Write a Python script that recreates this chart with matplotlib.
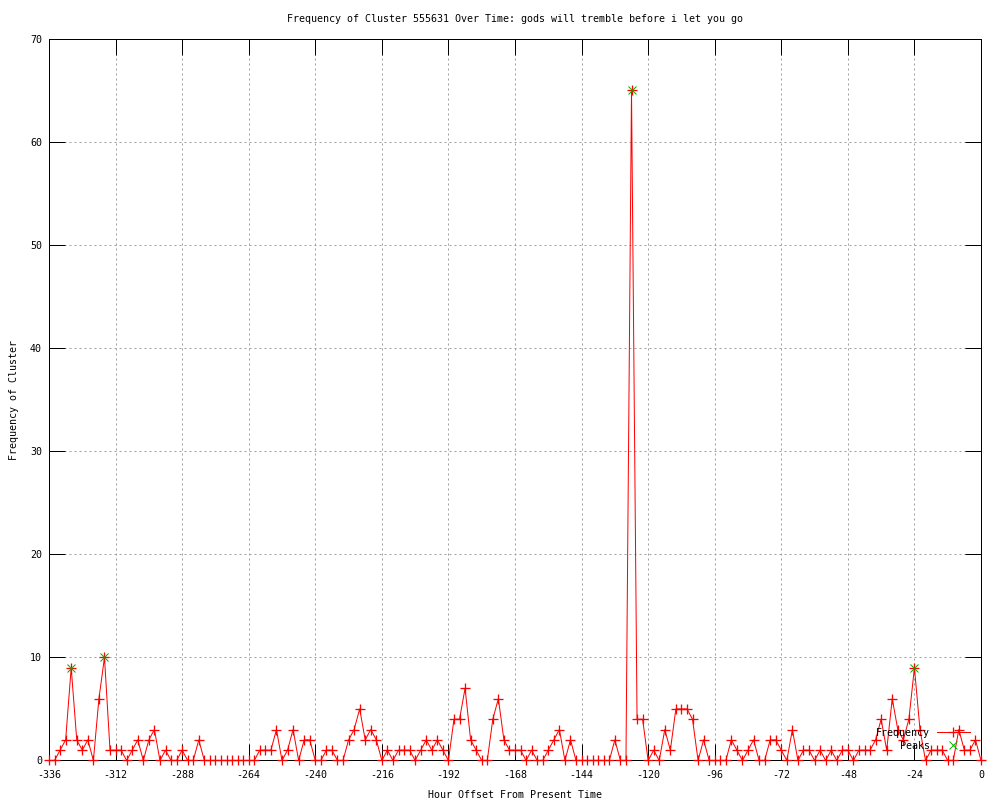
import matplotlib.pyplot as plt
from matplotlib.lines import Line2D

plt.rcParams['font.family'] = ['DejaVu Sans Mono']
plt.rcParams['font.size'] = 7.2
plt.rcParams['axes.unicode_minus'] = False

# hourly bins, every 2 hours back from now
hours = list(range(-336, 1, 2))
freq = [0, 0, 1, 2, 9, 2, 1, 2, 0, 6, 10, 1, 1, 1, 0, 1, 2, 0, 2, 3, 0, 1, 0, 0, 1, 0, 0, 2,
        0, 0, 0, 0, 0, 0, 0, 0, 0, 0, 1, 1, 1, 3, 0, 1, 3, 0, 2, 2, 0, 0, 1, 1, 0, 0, 2,
        3, 5, 2, 3, 2, 0, 1, 0, 1, 1, 1, 0, 1, 2, 1, 2, 1, 0, 4, 4, 7, 2, 1, 0, 0, 4, 6,
        2, 1, 1, 1, 0, 1, 0, 0, 1, 2, 3, 0, 2, 0, 0, 0, 0, 0, 0, 0, 2, 0, 0, 65, 4, 4, 0,
        1, 0, 3, 1, 5, 5, 5, 4, 0, 2, 0, 0, 0, 0, 2, 1, 0, 1, 2, 0, 0, 2, 2, 1, 0, 3,
        0, 1, 1, 0, 1, 0, 1, 0, 1, 1, 0, 1, 1, 1, 2, 4, 1, 6, 3, 2, 4, 9, 3, 0, 1, 1, 1, 0, 0, 3, 1, 1, 2, 0]
peak_hours = [-328, -316, -126, -24]
peak_freq = [9, 10, 65, 9]

xticks = list(range(-336, 1, 24))
yticks = list(range(0, 71, 10))

rood = '#ff0000'
groen = '#00b000'
px = 0.72  # one pixel in points at 100 dpi

fig = plt.figure(figsize=(10, 8), dpi=100)
ax = fig.add_axes([0.049, 0.0494, 0.932, 0.9019])

ax.plot(hours, freq, color=rood, linewidth=px, marker='+', markersize=6.5,
        markeredgewidth=px * 1.3, label='Frequency', clip_on=False, zorder=3)
ax.plot(peak_hours, peak_freq, linestyle='none', color=groen, marker='x', markersize=6,
        markeredgewidth=px, label='Peaks', clip_on=False, zorder=4)

ax.set_xlim(-336, 0)
ax.set_ylim(0, 70)
ax.set_xticks(xticks)
ax.set_yticks(yticks)
ax.tick_params(direction='in', length=16 * px, width=px, top=True, right=True, pad=5)
ax.tick_params(axis='x', pad=7)
ax.grid(True, color='#a0a0a0', linestyle=(0, (2, 3)), linewidth=px)
for s in ax.spines.values():
    s.set_linewidth(px)

ax.set_title('Frequency of Cluster 555631 Over Time: gods will tremble before i let you go',
             fontsize=7.2, pad=12)
ax.set_xlabel('Hour Offset From Present Time', labelpad=7)
ax.set_ylabel('Frequency of Cluster', labelpad=8)

handles = [Line2D([], [], color=rood, linewidth=px, marker='+', markersize=6.5,
                  markeredgewidth=px * 1.3),
           Line2D([], [], color=groen, linestyle='none', marker='x', markersize=6,
                  markeredgewidth=px)]
ax.legend(handles, ['Frequency', 'Peaks'], loc='lower right', bbox_to_anchor=(0.988, 0.0135),
          frameon=False, markerfirst=False, borderpad=0, borderaxespad=0,
          handlelength=3.3, handletextpad=0.7, labelspacing=0.3)

fig.savefig('out.png', dpi=100)
